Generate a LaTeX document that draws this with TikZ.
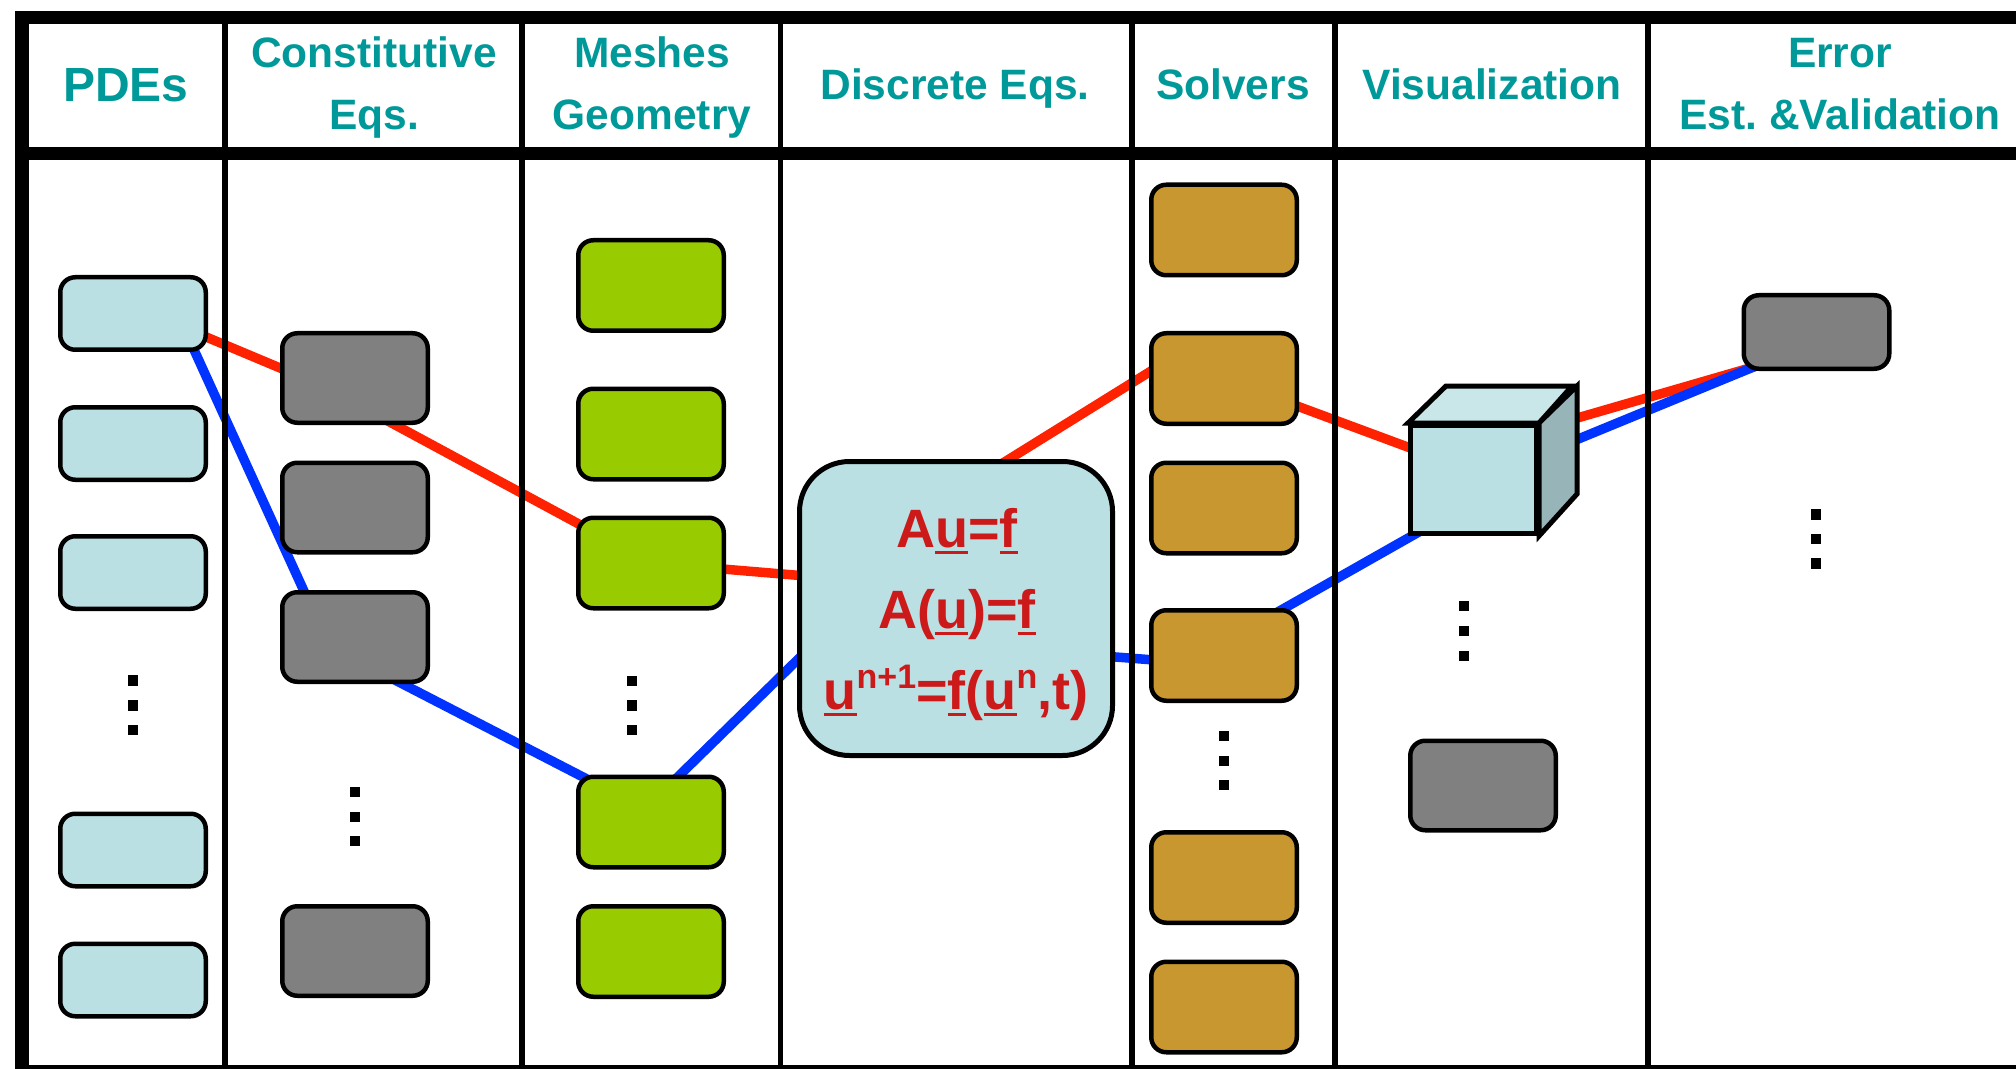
\documentclass[tikz,border=0pt]{standalone}
\usepackage{fontspec}
\setmainfont{Liberation Sans}
\usetikzlibrary{calc}
\pgfdeclarelayer{bg}
\pgfsetlayers{bg,main}
\definecolor{hdrteal}{HTML}{009999}
\definecolor{pdeblue}{HTML}{BBE0E3}
\definecolor{boxgray}{HTML}{808080}
\definecolor{meshgreen}{HTML}{99CC00}
\definecolor{solvergold}{HTML}{C8972F}
\definecolor{linered}{HTML}{FF2200}
\definecolor{lineblue}{HTML}{0033FF}
\definecolor{eqred}{HTML}{CC1A1A}
\definecolor{cubetop}{HTML}{C9E6E8}
\definecolor{cubeside}{HTML}{97B5B8}
\newcommand{\supx}[1]{\raisebox{10.5pt}{\fontsize{17}{17}\selectfont #1}}
\newcommand{\ulx}[1]{\setbox0\hbox{#1}\rlap{\rule[-3.6pt]{\wd0}{1.7pt}}\box0}
\begin{document}
\begin{tikzpicture}[x=0.5pt,y=-0.5pt,
  box/.style={draw=black, line width=2.25pt, rounded corners=7.5pt, minimum width=72.75pt, inner sep=0pt},
  pde/.style={box, fill=pdeblue, minimum height=36.25pt},
  cgray/.style={box, fill=boxgray, minimum height=44.75pt},
  mesh/.style={box, fill=meshgreen, minimum height=45.25pt},
  solver/.style={box, fill=solvergold, minimum height=45.25pt},
  hdr/.style={font=\bfseries\fontsize{21.25}{25}\selectfont, text=hdrteal, anchor=base, inner sep=0pt},
  eq/.style={font=\bfseries\fontsize{27}{30}\selectfont, text=eqred, anchor=base, inner sep=0pt},
  dot/.style={fill=black, minimum size=5.25pt, inner sep=0pt},
  redline/.style={draw=linered, line width=4.75pt},
  blueline/.style={draw=lineblue, line width=4.75pt},
  rulethick/.style={draw=black, line width=6.75pt},
  rulethin/.style={draw=black, line width=2.75pt},
  cubeface/.style={draw=black, line width=2.5pt, fill=pdeblue, minimum width=63pt, minimum height=54pt, inner sep=0pt}
]
\useasboundingbox (0,0) rectangle (2016,1069);

% headers
\node[hdr, font=\bfseries\fontsize{24}{28}\selectfont] (hpde) at (126,101.5) {PDEs};
\node[hdr] (hcon1) at (374,68) {Constitutive};
\node[hdr] (hcon2) at (374,130) {Eqs.};
\node[hdr] (hmesh1) at (652,68) {Meshes};
\node[hdr] (hmesh2) at (652,130) {Geometry};
\node[hdr] (hdisc) at (955,100) {Discrete Eqs.};
\node[hdr] (hsolv) at (1233,100) {Solvers};
\node[hdr] (hvis) at (1492,100) {Visualization};
\node[hdr] (herr1) at (1840,68) {Error};
\node[hdr] (herr2) at (1840,130) {Est.\ \&Validation};

% PDE boxes
\node[pde] (p1) at (133,313.5) {};
\node[pde] (p2) at (133,443.5) {};
\node[pde] (p3) at (133,572.5) {};
\node[pde] (p4) at (133,850) {};
\node[pde] (p5) at (133,980) {};
% constitutive boxes
\node[cgray] (c1) at (355,378) {};
\node[cgray] (c2) at (355,507.5) {};
\node[cgray] (c3) at (355,637) {};
\node[cgray] (c4) at (355,951) {};
% mesh boxes
\node[mesh] (m1) at (651,285.5) {};
\node[mesh] (m2) at (651,434) {};
\node[mesh] (m3) at (651,563) {};
\node[mesh] (m4) at (651,822) {};
\node[mesh] (m5) at (651,951.5) {};
% solver boxes
\node[solver] (s1) at (1224,230) {};
\node[solver] (s2) at (1224,378.5) {};
\node[solver] (s3) at (1224,508) {};
\node[solver] (s4) at (1224,655.5) {};
\node[solver] (s5) at (1224,877.5) {};
\node[solver] (s6) at (1224,1007) {};
% visualization gray box
\node[cgray] (v1) at (1483,785.5) {};
% error box
\node[cgray, minimum height=36.75pt] (e1) at (1816.5,332) {};

% central discrete box
\node[draw=black, line width=2.5pt, fill=pdeblue, rounded corners=25pt, minimum width=156.5pt, minimum height=147pt, inner sep=0pt] (disc) at (956,608.5) {};
\node[eq] (eq1) at (957,547) {A\ulx{u}=\ulx{f}};
\node[eq] (eq2) at (957,628) {A(\ulx{u})=\ulx{f}};
\node[eq] (eq3) at (956,709) {\ulx{u}\supx{n+1}=\ulx{f}(\ulx{u}\supx{n},t)};

% cube
\node[cubeface] (cube) at (1473.5,479.5) {};
\draw[line width=2.5pt, fill=cubetop] (cube.north west) -- ++(38,-37) -- ++(126,0) -- (cube.north east) -- cycle;
\draw[line width=2.5pt, fill=cubeside] (cube.north east) -- ++(38,-37) -- ++(0,108) -- (cube.south east) -- cycle;

% dots
\foreach \yy [count=\i] in {680.5,705.5,730} \node[dot] (pd\i) at (133,\yy) {};
\foreach \yy [count=\i] in {792,817,841} \node[dot] (cd\i) at (355,\yy) {};
\foreach \yy [count=\i] in {681,705.5,730} \node[dot] (md\i) at (632,\yy) {};
\foreach \yy [count=\i] in {736,761,785} \node[dot] (sd\i) at (1224,\yy) {};
\foreach \yy [count=\i] in {606,631,656} \node[dot] (vd\i) at (1464,\yy) {};
\foreach \yy [count=\i] in {514.5,539,563.5} \node[dot] (ed\i) at (1816,\yy) {};

% connector points inside boxes
\coordinate (ra) at ($(p1)+(47,12.5)$);
\coordinate (rb) at ($(c1)+(-32,8)$);
\coordinate (rc) at ($(m3)+(0,0)$);
\coordinate (rd) at ($(disc)+(-126,-30.5)$);
\coordinate (re) at ($(disc)+(34,-137.5)$);
\coordinate (rf) at ($(s2)+(-44,-25.5)$);
\coordinate (rg) at ($(s2)+(46,17.5)$);
\coordinate (rh) at ($(cube)+(-33.5,-20.5)$);
\coordinate (ri) at ($(cube)+(86.5,-56.5)$);
\coordinate (rj) at ($(e1)+(-46,30)$);

\coordinate (ba) at ($(p1)+(52,16.5)$);
\coordinate (bb) at ($(c3)+(-26,9)$);
\coordinate (bc) at ($(m4)+(-6,-13)$);
\coordinate (bd) at ($(disc)+(-126,19.5)$);
\coordinate (be) at ($(disc)+(134,46.5)$);
\coordinate (bf) at ($(s4)+(-44,6.5)$);
\coordinate (bg) at ($(s4)+(36,-33.5)$);
\coordinate (bh) at ($(cube)+(-33.5,40.5)$);
\coordinate (bi) at ($(cube)+(86.5,-33)$);
\coordinate (bj) at ($(e1)+(-46,28)$);

\begin{pgfonlayer}{bg}
  \fill[white] (0,0) rectangle (2016,1069);
  \draw[redline] (ra) -- (rb) -- (rc) -- (rd);
  \draw[redline] (re) -- (rf);
  \draw[redline] (rg) -- (rh);
  \draw[redline] (ri) -- (rj);
  \draw[blueline] (ba) -- (bb) -- (bc) -- (bd);
  \draw[blueline] (be) -- (bf);
  \draw[blueline] (bg) -- (bh);
  \draw[blueline] (bi) -- (bj);
  % frame
  \foreach \xx in {225,522,780.5,1132,1335,1648} \draw[rulethin] (\xx,11) -- (\xx,1072);
  \draw[rulethick] (15,17.5) -- (2020,17.5);
  \draw[rulethick] (15,153.5) -- (2020,153.5);
  \draw[draw=black, line width=7pt] (22,11) -- (22,1072);
  \draw[draw=black, line width=2.5pt] (15,1067.5) -- (2020,1067.5);
\end{pgfonlayer}
\end{tikzpicture}
\end{document}
